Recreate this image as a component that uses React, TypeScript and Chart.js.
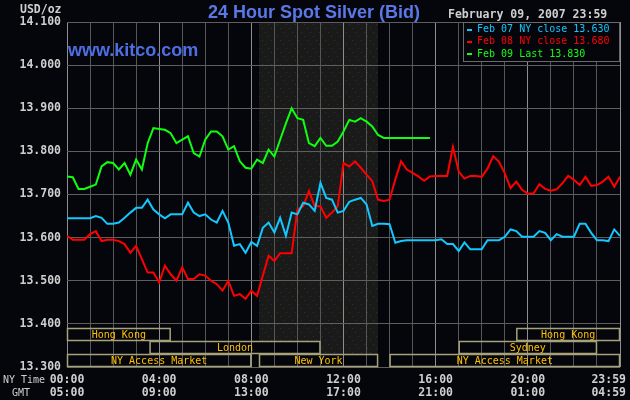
import { useEffect, useRef } from "react"
import { Chart, registerables } from "chart.js"

Chart.register(...registerables)

// sampling step of the series, minutes after NY midnight
const STEP = 15

// Feb 07 NY (cyan) 00:00 .. 24:00
const feb07 = [
  13.645, 13.645, 13.645, 13.645, 13.645, 13.65, 13.646, 13.632, 13.632, 13.635, 13.646, 13.658, 13.669, 13.669, 13.688, 13.665,
  13.654, 13.645, 13.654, 13.654, 13.654, 13.681, 13.658, 13.65, 13.654, 13.642, 13.635, 13.662, 13.635, 13.581, 13.585, 13.565,
  13.59, 13.581, 13.623, 13.635, 13.612, 13.646, 13.604, 13.658, 13.654, 13.681, 13.677, 13.662, 13.727, 13.692, 13.688, 13.658,
  13.662, 13.683, 13.688, 13.692, 13.677, 13.627, 13.632, 13.632, 13.631, 13.588, 13.592, 13.594, 13.594, 13.594, 13.594, 13.594,
  13.594, 13.596, 13.585, 13.585, 13.569, 13.589, 13.573, 13.573, 13.573, 13.594, 13.594, 13.594, 13.602, 13.619, 13.615, 13.602,
  13.602, 13.602, 13.615, 13.611, 13.594, 13.608, 13.602, 13.602, 13.602, 13.632, 13.632, 13.611, 13.594, 13.594, 13.592, 13.619,
  13.604,
]

// Feb 08 NY (red)
const feb08 = [
  13.604, 13.595, 13.595, 13.595, 13.608, 13.615, 13.592, 13.595, 13.595, 13.592, 13.585, 13.565, 13.581, 13.55, 13.519, 13.519,
  13.496, 13.535, 13.515, 13.5, 13.531, 13.504, 13.504, 13.515, 13.512, 13.5, 13.492, 13.477, 13.5, 13.465, 13.469, 13.458,
  13.477, 13.465, 13.512, 13.558, 13.546, 13.564, 13.564, 13.564, 13.665, 13.673, 13.708, 13.673, 13.673, 13.646, 13.658, 13.673,
  13.773, 13.765, 13.777, 13.762, 13.746, 13.731, 13.688, 13.685, 13.688, 13.735, 13.777, 13.758, 13.75, 13.742, 13.732, 13.742,
  13.743, 13.743, 13.743, 13.81, 13.753, 13.737, 13.743, 13.743, 13.741, 13.76, 13.789, 13.776, 13.749, 13.715, 13.73, 13.711,
  13.702, 13.703, 13.724, 13.713, 13.709, 13.712, 13.726, 13.743, 13.734, 13.722, 13.741, 13.72, 13.722, 13.73, 13.741, 13.718,
  13.741,
]

// Feb 09 (green), up to the last quote
const feb09 = [
  13.742, 13.74, 13.713, 13.713, 13.718, 13.723, 13.765, 13.775, 13.773, 13.758, 13.773, 13.746, 13.781, 13.758, 13.819, 13.854,
  13.852, 13.85, 13.842, 13.819, 13.827, 13.835, 13.796, 13.788, 13.827, 13.846, 13.846, 13.835, 13.804, 13.812, 13.777, 13.762,
  13.76, 13.781, 13.773, 13.804, 13.788, 13.827, 13.865, 13.9, 13.877, 13.873, 13.819, 13.812, 13.831, 13.813, 13.813, 13.823,
  13.846, 13.873, 13.869, 13.877, 13.869, 13.858, 13.838, 13.831, 13.831, 13.831, 13.831, 13.831, 13.831, 13.831, 13.831, 13.831,
]

const legendLabels = ["Feb 07 NY close 13.630", "Feb 08 NY close 13.680", "Feb 09 Last 13.830"]
const seriesColors = ["#12c8ff", "#ff0000", "#10ff10"]

const nyLabels = ["00:00", "04:00", "08:00", "12:00", "16:00", "20:00", "23:59"]
const gmtLabels = ["05:00", "09:00", "13:00", "17:00", "21:00", "01:00", "04:59"]
const labelMinutes = [0, 240, 480, 720, 960, 1200, 1439]

// market sessions: [name, row, start min, end min]
const sessions: [string, number, number, number][] = [
  ["Hong Kong", 0, 0, 270],
  ["Hong Kong", 0, 1170, 1440],
  ["London", 1, 215, 660],
  ["Sydney", 1, 1020, 1380],
  ["NY Access Market", 2, 0, 480],
  ["New York", 2, 500, 810],
  ["NY Access Market", 2, 840, 1440],
]
const NY_OPEN = 500
const NY_CLOSE = 810

const BG = "#05060c"
const MONO = "'DejaVu Sans Mono', monospace"
const ROW_H = 13

const toPoints = (vals: number[]) => vals.map((v, i) => ({ x: i * STEP, y: v }))

const decorPlugin = {
  id: "kitcoDecor",
  beforeDraw(chart: any) {
    const { ctx, chartArea: a } = chart
    const x = chart.scales.x
    ctx.save()
    ctx.fillStyle = BG
    ctx.fillRect(0, 0, chart.width, chart.height)
    // NY trading hours shading with faint dots
    const sx = x.getPixelForValue(NY_OPEN)
    const ex = x.getPixelForValue(NY_CLOSE)
    ctx.fillStyle = "#1a1a19"
    ctx.fillRect(sx, a.top, ex - sx, a.bottom - a.top)
    ctx.fillStyle = "rgba(45,70,175,0.45)"
    let r = 0
    for (let yy = a.top + 2; yy < a.bottom; yy += 4, r++) {
      for (let xx = sx + ((r * 3) % 9); xx < ex; xx += 9) ctx.fillRect(Math.round(xx), yy, 1, 1)
    }
    ctx.fillStyle = BG
    sessions.forEach(([, row, s, e]) => {
      const top = a.bottom - (3 - row) * ROW_H
      const x0 = x.getPixelForValue(s)
      const x1 = x.getPixelForValue(e)
      ctx.fillRect(x0, top, x1 - x0, ROW_H)
    })
    ctx.restore()
  },
  afterDraw(chart: any) {
    const { ctx, chartArea: a } = chart
    const x = chart.scales.x
    ctx.save()

    // session boxes
    ctx.strokeStyle = "#a8a27a"
    ctx.lineWidth = 1.5
    ctx.font = `10px ${MONO}`
    ctx.textAlign = "center"
    ctx.textBaseline = "middle"
    sessions.forEach(([name, row, s, e]) => {
      const top = a.bottom - (3 - row) * ROW_H
      const x0 = x.getPixelForValue(s)
      const x1 = x.getPixelForValue(e)
      ctx.strokeRect(x0 + 0.5, top + 0.5, x1 - x0 - 1, ROW_H - 1)
      ctx.fillStyle = "#ffc000"
      ctx.fillText(name, (x0 + x1) / 2, top + ROW_H / 2 + 0.5)
    })

    // legend box
    const lx = 463
    ctx.fillStyle = BG
    ctx.fillRect(lx, a.top, a.right - lx, 39)
    ctx.strokeStyle = "#6a6a6a"
    ctx.lineWidth = 1
    ctx.strokeRect(lx + 0.5, a.top + 0.5, a.right - lx - 1, 39)
    ctx.textAlign = "left"
    legendLabels.forEach((t, i) => {
      const yy = a.top + 7.5 + i * 12.4
      ctx.fillStyle = seriesColors[i]
      ctx.fillRect(lx + 4, Math.round(yy) - 1, 5, 2)
      ctx.fillText(t, lx + 14, yy)
    })

    // time axis labels
    ctx.fillStyle = "#cfcfcf"
    ctx.font = `10px ${MONO}`
    ctx.textAlign = "center"
    ctx.fillText("NY Time", 24, 380)
    ctx.fillText("GMT", 21, 393)
    ctx.font = `bold 11.5px ${MONO}`
    labelMinutes.forEach((m, i) => {
      const w = ctx.measureText(nyLabels[i]).width
      const cx = Math.min(x.getPixelForValue(m), chart.width - 4 - w / 2)
      ctx.fillText(nyLabels[i], cx, 380)
      ctx.fillText(gmtLabels[i], cx, 393)
    })

    // headings
    ctx.textBaseline = "alphabetic"
    ctx.textAlign = "left"
    ctx.fillText("USD/oz", 20, 13)
    ctx.fillText("February 09, 2007 23:59", 448, 18)
    ctx.fillStyle = "#5a78e6"
    ctx.font = "bold 18px 'Liberation Sans', Arial, sans-serif"
    ctx.textAlign = "center"
    ctx.fillText("24 Hour Spot Silver (Bid)", 314, 17.5)
    ctx.textAlign = "left"
    ctx.fillStyle = "#4e6ee4"
    ctx.fillText("www.kitco.com", 68, 56)
    ctx.restore()
  },
}

function SilverChart() {
  const chartRef = useRef<HTMLCanvasElement>(null)
  const chartInstance = useRef<Chart | null>(null)

  useEffect(() => {
    if (!chartRef.current) return
    if (chartInstance.current) chartInstance.current.destroy()

    const ctx = chartRef.current.getContext("2d")
    if (!ctx) return
    const series = [feb07, feb08, feb09]
    chartInstance.current = new Chart(ctx, {
      type: "line",
      data: {
        datasets: series.map((vals, i) => ({
          label: legendLabels[i],
          data: toPoints(vals),
          borderColor: seriesColors[i],
          borderWidth: 2,
          pointRadius: 0,
          tension: 0,
          fill: false,
        })),
      },
      options: {
        animation: false,
        responsive: false,
        events: [],
        layout: { padding: { top: 22, right: 10, left: 0, bottom: 0 } },
        plugins: { legend: { display: false }, tooltip: { enabled: false } },
        scales: {
          x: {
            type: "linear",
            min: 0,
            max: 1440,
            ticks: { stepSize: 60, display: false },
            grid: {
              color: (c: any) => (c.tick && c.tick.value % 240 === 0 ? "#8e8e8e" : "#565656"),
              drawTicks: false,
            },
            border: { display: false },
            afterFit: (s: any) => {
              s.height = 33
            },
          },
          y: {
            min: 13.3,
            max: 14.1,
            ticks: {
              stepSize: 0.1,
              padding: 6,
              color: "#cfcfcf",
              font: { family: "'DejaVu Sans Mono', monospace", size: 11.5, weight: "bold" },
              callback: (v: any) => Number(v).toFixed(3),
            },
            grid: { color: "#5e5e5e", drawTicks: false },
            border: { display: false },
            afterFit: (s: any) => {
              s.width = 67
            },
          },
        },
      },
      plugins: [decorPlugin],
    })

    return () => {
      if (chartInstance.current) {
        chartInstance.current.destroy()
        chartInstance.current = null
      }
    }
  }, [])

  return <canvas ref={chartRef} width={630} height={400} />
}

export default function App() {
  return (
    <div style={{ position: "fixed", left: 0, top: 0, width: 630, height: 400, background: BG }}>
      <SilverChart />
    </div>
  )
}
